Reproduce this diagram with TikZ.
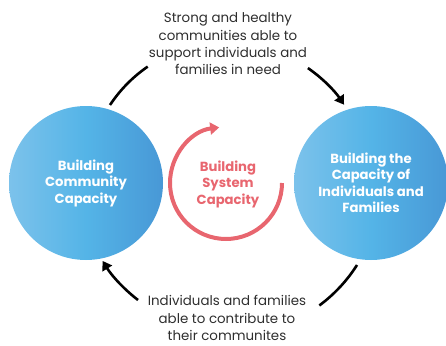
\documentclass[tikz,border=0pt]{standalone}
\usepackage{fontspec}
\setmainfont{Poppins}
\usetikzlibrary{arrows.meta,calc}
\definecolor{blueL}{HTML}{7CC2EB}
\definecolor{blueM}{HTML}{54B4E7}
\definecolor{blueR}{HTML}{4898D6}
\definecolor{redc}{HTML}{E8666F}
\definecolor{txt}{HTML}{2E2E2E}
\begin{document}
\begin{tikzpicture}[x=1pt,y=-1pt,
  bigcirc/.style={circle,minimum size=154pt,inner sep=0pt,left color=blueL,right color=blueR,middle color=blueM,
    text=white,font=\fontsize{13.2}{16.5}\selectfont\bfseries,align=center},
  caption/.style={text=txt,font=\fontsize{13.4}{17.3}\selectfont,align=center,inner sep=1pt},
  redtext/.style={text=redc,font=\fontsize{13.2}{16.5}\selectfont\bfseries,align=center},
  blackarr/.style={line width=2.6pt,-{Triangle[length=9pt,width=11pt]}},
  blackline/.style={line width=2.6pt},
  redarr/.style={draw=redc,line width=4pt,-{Triangle[length=9pt,width=12pt]}}]
\useasboundingbox (0,0) rectangle (446,345);
\node[bigcirc] (left) at (86,183) {Building\\Community\\Capacity};
\node[bigcirc] (right) at (371,183) {Building the\\Capacity of\\Individuals and\\Families};
\node[redtext] (sys) at (228,184) {Building\\System\\Capacity};
\node[caption] (top) at (228,44) {Strong and healthy\\communities able to\\support individuals and\\families in need};
\node[caption] (bot) at (227,318) {Individuals and families\\able to contribute to\\their communites};
% red circular arrow
\coordinate (rs) at (282,183);
\draw[redarr] (rs) arc[start angle=0,end angle=263,radius=56];
% black arrows
\coordinate (tl) at (110,105);
\draw[blackline] (tl) arc[start angle=213.5,end angle=235.5,radius=141];
\coordinate (tr) at ($(228,183)+(304.8:140)$);
\draw[blackarr] (tr) arc[start angle=304.8,end angle=326,radius=140];
\coordinate (br) at (357,265);
\draw[blackline] (br) arc[start angle=32.4,end angle=53.5,radius=151];
\coordinate (bl) at (138,300);
\draw[blackarr] (bl) arc[start angle=127.6,end angle=148,radius=149];
\end{tikzpicture}
\end{document}
